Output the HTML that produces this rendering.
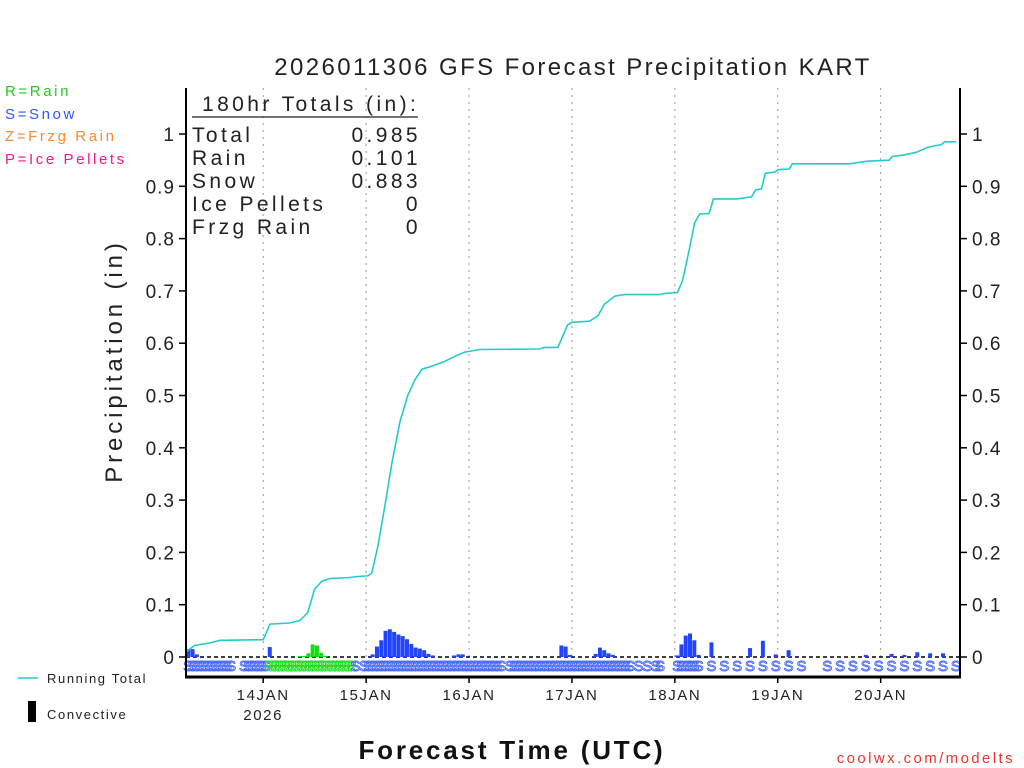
<!DOCTYPE html>
<html><head><meta charset="utf-8">
<style>
html,body{margin:0;padding:0;background:#fff;}
svg{display:block;font-family:"Liberation Sans","DejaVu Sans",sans-serif;}
</style></head>
<body>
<svg id="chart" width="1024" height="768" viewBox="0 0 1024 768">
<text x="573" y="75" text-anchor="middle" font-size="24" fill="#222" letter-spacing="2.4">2026011306 GFS Forecast Precipitation KART</text>
<g font-size="15" letter-spacing="2.6">
<text x="5" y="96" fill="#22cc22">R=Rain</text>
<text x="5" y="119" fill="#3355ff">S=Snow</text>
<text x="5" y="141" fill="#ff8833">Z=Frzg Rain</text>
<text x="5" y="164" fill="#ff1493">P=Ice Pellets</text>
</g>
<text transform="translate(122,361) rotate(-90)" text-anchor="middle" font-size="24" fill="#222" letter-spacing="3.9">Precipitation (in)</text>
<text x="512" y="759" text-anchor="middle" font-size="26" font-weight="bold" fill="#111" letter-spacing="2.8">Forecast Time (UTC)</text>
<text x="1015" y="763" text-anchor="end" font-size="15" fill="#ee3333" letter-spacing="2.4">coolwx.com/modelts</text>
<g>
<line x1="18" y1="678" x2="38" y2="678" stroke="#22cccc" stroke-width="1.5"/>
<text x="47" y="683" font-size="13" fill="#222" letter-spacing="1.6">Running Total</text>
<rect x="28" y="701" width="8" height="21" fill="#000"/>
<text x="47" y="719" font-size="13" fill="#222" letter-spacing="1.6">Convective</text>
</g>
<g id="grid"></g><g id="bars"></g><g id="types"></g><g id="line"></g><g id="axes"></g>
<g font-size="21" fill="#222" letter-spacing="3.4">
<text x="202" y="111">180hr Totals (in):</text>
<line x1="192" y1="117" x2="418" y2="117" stroke="#222" stroke-width="1.2"/>
<text x="192" y="142">Total</text><text x="421" y="142" text-anchor="end">0.985</text>
<text x="192" y="165">Rain</text><text x="421" y="165" text-anchor="end">0.101</text>
<text x="192" y="188">Snow</text><text x="421" y="188" text-anchor="end">0.883</text>
<text x="192" y="211">Ice Pellets</text><text x="421" y="211" text-anchor="end">0</text>
<text x="192" y="234">Frzg Rain</text><text x="421" y="234" text-anchor="end">0</text>
</g>
</svg>
<script>
const dayLabels = ["14JAN","15JAN","16JAN","17JAN","18JAN","19JAN","20JAN"];
const dayHours = [18,42,66,90,114,138,162];
const yTicks = [0,0.1,0.2,0.3,0.4,0.5,0.6,0.7,0.8,0.9,1];
const yTickLabels = ["0","0.1","0.2","0.3","0.4","0.5","0.6","0.7","0.8","0.9","1"];
const barHours = [1,2,3,20,27,28,29,30,31,32,33,44,45,46,47,48,49,50,51,52,53,54,55,56,57,58,63,64,65,88,89,90,96,97,98,99,100,115,116,117,118,119,120,123,132,135,138,141,159,165,168,171,174,177];
const barValues = [0.015,0.015,0.005,0.019,0.002,0.002,0.007,0.024,0.022,0.008,0.002,0.005,0.020,0.032,0.050,0.053,0.048,0.043,0.040,0.034,0.025,0.018,0.016,0.013,0.006,0.003,0.003,0.005,0.005,0.022,0.020,0.004,0.006,0.018,0.013,0.007,0.004,0.003,0.024,0.041,0.045,0.032,0.004,0.028,0.017,0.031,0.005,0.013,0.004,0.006,0.004,0.009,0.007,0.007];
const barTypes = "SSSSRRRRRRRSSSSSSSSSSSSSSSSSSSSSSSSSSSSSSSSSSSSSSSSSS";
const lineHours = [0,2,5.6,8,18,19.6,24.2,26.6,28.4,30,31.7,33.6,38.2,40,42.4,43.3,44.7,46.4,48,49.9,51.7,53.4,55,56.9,60.3,62.7,65,68.5,82.5,83.6,86.7,89,90,94.1,96,97.6,100,102.3,110.4,111.6,114.6,115.8,117.4,118.6,119.8,122,123,128.6,131.9,132.8,134.2,135.1,137.2,138.2,140.7,141.4,154.7,158.9,164,164.7,167.5,170.3,173.1,176.2,176.9,179.6];
const lineValues = [0.01,0.022,0.027,0.032,0.033,0.063,0.065,0.07,0.085,0.13,0.145,0.15,0.152,0.154,0.155,0.16,0.21,0.29,0.37,0.45,0.50,0.53,0.55,0.555,0.565,0.575,0.583,0.588,0.589,0.592,0.592,0.635,0.64,0.642,0.652,0.675,0.69,0.693,0.693,0.695,0.697,0.72,0.78,0.83,0.847,0.848,0.876,0.876,0.88,0.893,0.895,0.925,0.927,0.932,0.933,0.943,0.943,0.948,0.95,0.957,0.96,0.965,0.975,0.98,0.985,0.985];
const typeString = "SSSSSSSSSSS  SSSSSSRRRRRRRRRRRRRRRRRRRRS SSSSSSSSSSSSSSSSSSSSSSSSSSSSSSSSS SSSSSSSSSSSSSSSSSSSSSSSSSSSSS S S SS   SSSSSS";
const typeHours3 = [123,126,129,132,135,138,141,144,150,153,156,159,162,165,168,171,174,177,180];

const NS="http://www.w3.org/2000/svg";
const X0=186,X1=960,Y0=657,YT=88,YB=677;
const xS=h=>X0+h*(X1-X0)/180.5;
const yS=v=>Y0-v*523;
function mk(tag,attrs,parent){const e=document.createElementNS(NS,tag);for(const k in attrs)e.setAttribute(k,attrs[k]);parent.appendChild(e);return e;}
const grid=document.getElementById('grid'),axes=document.getElementById('axes'),bars=document.getElementById('bars'),types=document.getElementById('types'),lineG=document.getElementById('line');

dayHours.forEach((h,i)=>{
  const g=mk('line',{x1:xS(h),y1:YT,x2:xS(h),y2:Y0,stroke:'#999','stroke-width':1,'stroke-dasharray':'2,5'},grid);
  
  
  const t=mk('line',{x1:xS(h),y1:YB,x2:xS(h),y2:YB+6,stroke:'#000','stroke-width':1.5},axes);
  
  
  const l=mk('text',{x:xS(h),y:700,'text-anchor':'middle','font-size':15,fill:'#222','letter-spacing':1.6},axes);
  l.textContent=dayLabels[i];
  
  
});
const yr=mk('text',{x:xS(dayHours[0]),y:720,'text-anchor':'middle','font-size':15,fill:'#222','letter-spacing':1.6},axes);
yr.textContent="2026";



const zl=mk('line',{x1:X0,y1:Y0,x2:X1,y2:Y0,stroke:'#000','stroke-width':1.5,'stroke-dasharray':'4,3'},grid);



barHours.forEach((h,i)=>{
  const v=barValues[i];
  const r=mk('rect',{x:xS(h-1)+0.3,y:yS(v),width:Math.max(3.6,xS(h)-xS(h-1)-0.3),height:Y0-yS(v),fill:barTypes[i]==='R'?'#11dd11':'#2244ff'},bars);
  
  
});

function typeLetter(h,c){
  const t=mk('text',{x:xS(h)-2,y:671,'text-anchor':'middle','font-size':15,fill:'none',stroke:c==='R'?'#22dd22':'#4466ff','stroke-width':0.9},types);
  t.textContent=c;
  
  
}
for(let i=0;i<typeString.length;i++){const c=typeString[i];if(c!==' ')typeLetter(i+1,c);}
typeHours3.forEach(h=>typeLetter(h,'S'));

let d='';
lineHours.forEach((h,i)=>{d+=(i?'L':'M')+xS(h).toFixed(1)+','+yS(lineValues[i]).toFixed(1);});
const p=mk('path',{d:d,fill:'none',stroke:'#22cccc','stroke-width':1.6},lineG);



const al=mk('line',{x1:X0,y1:YT,x2:X0,y2:YB,stroke:'#000','stroke-width':2},axes);


const ar=mk('line',{x1:X1,y1:YT,x2:X1,y2:YB,stroke:'#000','stroke-width':2},axes);


const ab=mk('line',{x1:X0-1,y1:YB,x2:X1+1,y2:YB,stroke:'#000','stroke-width':3},axes);



yTicks.forEach((v,i)=>{
  const y=yS(v);
  const t1=mk('line',{x1:X0-7,y1:y,x2:X0,y2:y,stroke:'#000','stroke-width':1.5},axes);
  
  
  const t2=mk('line',{x1:X1,y1:y,x2:X1+7,y2:y,stroke:'#000','stroke-width':1.5},axes);
  
  
  const l1=mk('text',{x:X0-11,y:y+7,'text-anchor':'end','font-size':19,fill:'#222','letter-spacing':1},axes);
  l1.textContent=yTickLabels[i];
  
  
  const l2=mk('text',{x:X1+12,y:y+7,'text-anchor':'start','font-size':19,fill:'#222','letter-spacing':1},axes);
  l2.textContent=yTickLabels[i];
  
  
});
</script>
</body></html>
